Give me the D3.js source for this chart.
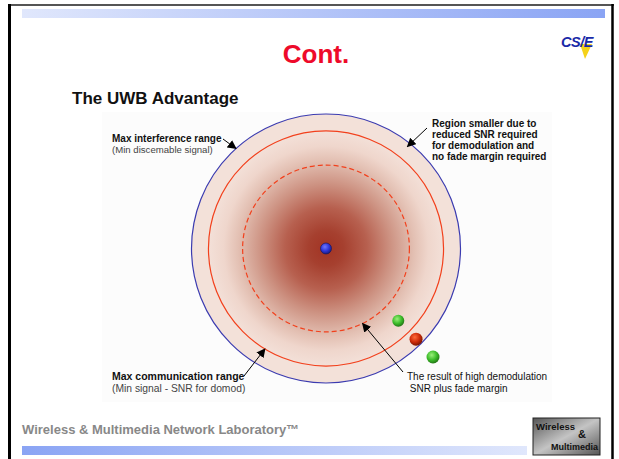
<!DOCTYPE html>
<html><head><meta charset="utf-8">
<script src="https://cdn.jsdelivr.net/npm/d3@7"></script>
<style>html,body{margin:0;padding:0;background:#fff;}svg{display:block;}</style>
</head><body>
<svg id="c" width="619" height="459"></svg>
<script>
// ---- data ----
const slideTitle = "Cont.";
const chartTitle = "The UWB Advantage";
const footerText = "Wireless & Multimedia Network Laboratory\u2122";
// relative ranges (interference range = 1)
const rangeNames = ["Max interference range", "Max communication range", "High demod SNR + fade margin"];
const rangeValues = [1.0, 0.874, 0.62];
const rangeStyles = ["interf", "comm", "dashed"];
// nodes: distance (relative) and angle (degrees, clockwise from +x)
const nodeNames = ["center", "inside", "edge", "outside"];
const nodeDist = [0.0, 0.76, 0.95, 1.133];
const nodeAngle = [0, 45, 45.2, 45.4];
const nodeColors = ["blue", "green", "red", "green"];
const annoLabels = [
  ["Max interference range", "(Min discemable signal)"],
  ["Region smaller due to", "reduced SNR required", "for demodulation and", "no fade margin required"],
  ["Max communication range", "(Min signal - SNR for domod)"],
  ["The result of high demodulation", " SNR plus fade margin"]
];

// ---- drawing ----
const svg = d3.select("#c");
const defs = svg.append("defs");
const FONT = "'Liberation Sans', Arial, Helvetica, sans-serif";

// gradients
const gTop = defs.append("linearGradient").attr("id", "gTop");
gTop.append("stop").attr("offset", 0).attr("stop-color", "#e0e7fc");
gTop.append("stop").attr("offset", 1).attr("stop-color", "#8aa4f4");
const gBot = defs.append("linearGradient").attr("id", "gBot");
gBot.append("stop").attr("offset", 0).attr("stop-color", "#8aa4f4");
gBot.append("stop").attr("offset", 1).attr("stop-color", "#e0e7fc");
const gDisc = defs.append("radialGradient").attr("id", "gDisc");
[[0, "#a23424"], [0.15, "#a6402f"], [0.35, "#b7604f"], [0.55, "#cd9282"], [0.75, "#e3c0b3"], [0.87, "#efd6cc"], [1, "#f3e0d8"]]
  .forEach(([o, c]) => gDisc.append("stop").attr("offset", o).attr("stop-color", c));
const gLogo = defs.append("linearGradient").attr("id", "gLogo").attr("x1", 0).attr("y1", 0).attr("x2", 1).attr("y2", 1);
gLogo.append("stop").attr("offset", 0).attr("stop-color", "#555");
gLogo.append("stop").attr("offset", 0.5).attr("stop-color", "#c4c4c4");
gLogo.append("stop").attr("offset", 1).attr("stop-color", "#555");

function ballGrad(id, light, mid, dark) {
  const g = defs.append("radialGradient").attr("id", id).attr("cx", 0.4).attr("cy", 0.35).attr("r", 0.7);
  g.append("stop").attr("offset", 0).attr("stop-color", light);
  g.append("stop").attr("offset", 0.55).attr("stop-color", mid);
  g.append("stop").attr("offset", 1).attr("stop-color", dark);
}
ballGrad("b-blue", "#6d78ff", "#2f35d8", "#1a1a70");
ballGrad("b-green", "#9af07a", "#3cbc2a", "#1f6a12");
ballGrad("b-red", "#ff6a3a", "#cc2a08", "#6e1200");

const defsArrow = defs.append("marker").attr("id", "arr").attr("viewBox", "0 0 10 10")
  .attr("refX", 9).attr("refY", 5).attr("markerWidth", 9).attr("markerHeight", 9)
  .attr("markerUnits", "userSpaceOnUse").attr("orient", "auto");
defsArrow.append("path").attr("d", "M0,0 L10,5 L0,10 Z").attr("fill", "#000");

// slide frame
svg.append("line").attr("x1", 8).attr("x2", 614).attr("y1", 5).attr("y2", 5).attr("stroke", "#555").attr("stroke-width", 2);
svg.append("line").attr("x1", 9.5).attr("x2", 9.5).attr("y1", 4).attr("y2", 459).attr("stroke", "#000").attr("stroke-width", 3);
svg.append("line").attr("x1", 612.5).attr("x2", 612.5).attr("y1", 4).attr("y2", 459).attr("stroke", "#000").attr("stroke-width", 2.5);

// top and bottom bars
svg.append("rect").attr("x", 22).attr("y", 9).attr("width", 583).attr("height", 9).attr("fill", "url(#gTop)");
svg.append("rect").attr("x", 22).attr("y", 446).attr("width", 505).attr("height", 9).attr("fill", "url(#gBot)");

// CSIE logo
const logo = svg.append("g").attr("transform", "translate(561,34)");
logo.append("path").attr("d", "M19,10 L31,10 L24,25 Z").attr("fill", "#f5d21a");
logo.append("text").attr("x", 0).attr("y", 13).attr("font-family", FONT).attr("font-size", 14.5)
  .attr("font-weight", "bold").attr("font-style", "italic").attr("fill", "#1a2aa8").attr("letter-spacing", -0.5).text("CS/E");

// slide title
svg.append("text").attr("x", 316).attr("y", 63).attr("text-anchor", "middle").attr("font-family", FONT)
  .attr("font-size", 26).attr("font-weight", "bold").attr("fill", "#ee0a2a").text(slideTitle);

// chart title
svg.append("text").attr("x", 72).attr("y", 104).attr("font-family", FONT).attr("font-size", 17)
  .attr("font-weight", "bold").attr("fill", "#111").text(chartTitle);

// faint picture background
svg.append("rect").attr("x", 102).attr("y", 112).attr("width", 450).attr("height", 290).attr("fill", "#fcfcfc");

// scales
const cx = 326, cy = 248.5;
const rScale = d3.scaleLinear().domain([0, 1]).range([0, 134.5]);
const ang = d3.scaleLinear().domain([0, 360]).range([0, 2 * Math.PI]);

// disc
svg.append("circle").attr("cx", cx).attr("cy", cy).attr("r", rScale(rangeValues[0])).attr("fill", "#f3e1d9");
svg.append("circle").attr("cx", cx).attr("cy", cy).attr("r", rScale(rangeValues[1])).attr("fill", "url(#gDisc)");

const styleMap = {
  interf: { stroke: "#3b3bb0", dash: null, w: 1.2 },
  comm: { stroke: "#f2401c", dash: null, w: 1.2 },
  dashed: { stroke: "#f2401c", dash: "5,3", w: 1.2 }
};
svg.selectAll("circle.range").data(rangeValues).join("circle").attr("class", "range")
  .attr("cx", cx).attr("cy", cy).attr("r", d => rScale(d)).attr("fill", "none")
  .attr("stroke", (d, i) => styleMap[rangeStyles[i]].stroke)
  .attr("stroke-width", (d, i) => styleMap[rangeStyles[i]].w)
  .attr("stroke-dasharray", (d, i) => styleMap[rangeStyles[i]].dash);

// nodes
const nodeR = [5.5, 6, 6.5, 6.5];
svg.selectAll("circle.node").data(nodeDist).join("circle").attr("class", "node")
  .attr("cx", (d, i) => cx + rScale(d) * Math.cos(ang(nodeAngle[i])))
  .attr("cy", (d, i) => cy + rScale(d) * Math.sin(ang(nodeAngle[i])))
  .attr("r", (d, i) => nodeR[i])
  .attr("fill", (d, i) => `url(#b-${nodeColors[i]})`)
  .attr("stroke", (d, i) => nodeColors[i] === "blue" ? "#14145a" : "none").attr("stroke-width", 0.6);

// annotations
function label(lines, x, y0, lh, sizes, weights, fills) {
  const t = svg.append("text").attr("font-family", FONT).attr("fill", "#111");
  lines.forEach((l, i) => {
    t.append("tspan").attr("x", x).attr("y", y0 + i * lh).attr("font-size", sizes[i])
      .attr("font-weight", weights[i]).attr("fill", fills[i]).attr("xml:space", "preserve").text(l);
  });
}
label(annoLabels[0], 112, 141.5, 11.5, [10, 9.6], ["bold", "normal"], ["#111", "#444"]);
label(annoLabels[1], 432, 127, 11, [10, 10, 10, 10], ["bold", "bold", "bold", "bold"], ["#111", "#111", "#111", "#111"]);
label(annoLabels[2], 112, 379.5, 12.5, [10.5, 10.3], ["bold", "normal"], ["#111", "#444"]);
label(annoLabels[3], 407, 380, 11.5, [10, 10], ["normal", "normal"], ["#111", "#111"]);

function arrow(x1, y1, x2, y2) {
  svg.append("line").attr("x1", x1).attr("y1", y1).attr("x2", x2).attr("y2", y2)
    .attr("stroke", "#000").attr("stroke-width", 1).attr("marker-end", "url(#arr)");
}
function onCircle(rv, deg) {
  return [cx + rScale(rv) * Math.cos(ang(deg)), cy + rScale(rv) * Math.sin(ang(deg))];
}
let p = onCircle(rangeValues[0], 228); arrow(223, 139, p[0], p[1]);
p = onCircle(0.97, 308.6); arrow(427, 128, p[0], p[1]);
p = onCircle(rangeValues[1], 121.3); arrow(244, 376, p[0], p[1]);
p = onCircle(rangeValues[2], 64); arrow(403, 372, p[0], p[1]);

// footer
svg.append("text").attr("x", 22).attr("y", 434).attr("font-family", FONT).attr("font-size", 13)
  .attr("font-weight", "bold").attr("fill", "#888").text(footerText);
const fl = svg.append("g").attr("transform", "translate(533,418)");
fl.append("rect").attr("width", 67).attr("height", 37).attr("fill", "url(#gLogo)").attr("stroke", "#222");
fl.append("text").attr("x", 3).attr("y", 12).attr("font-family", FONT).attr("font-size", 9.5).attr("font-weight", "bold").attr("fill", "#111").text("Wireless");
fl.append("text").attr("x", 45).attr("y", 20).attr("font-family", FONT).attr("font-size", 11).attr("font-weight", "bold").attr("fill", "#111").text("&");
fl.append("text").attr("x", 18).attr("y", 32).attr("font-family", FONT).attr("font-size", 9).attr("font-weight", "bold").attr("fill", "#111").text("Multimedia");
</script>
</body></html>
